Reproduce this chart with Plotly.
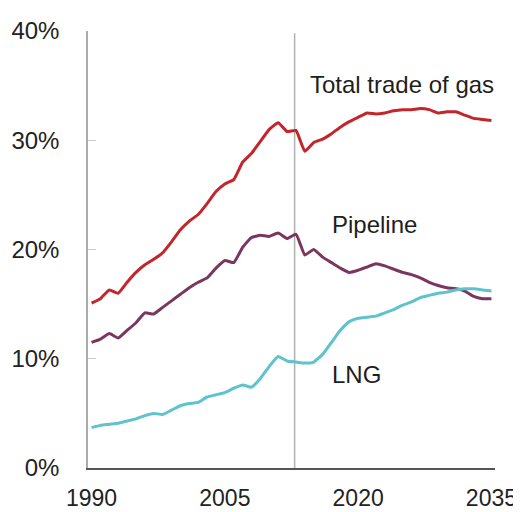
import plotly.graph_objects as go

years = list(range(1990, 2036))

total_trade = [15.1, 15.5, 16.3, 16.0, 17.0, 17.9, 18.6, 19.1, 19.7, 20.7,
               21.8, 22.6, 23.2, 24.2, 25.3, 26.0, 26.4, 28.0, 28.8, 29.9,
               31.0, 31.6, 30.8, 30.9, 29.0, 29.8, 30.1, 30.6, 31.2, 31.7,
               32.1, 32.5, 32.4, 32.5, 32.7, 32.8, 32.8, 32.9, 32.8, 32.5,
               32.6, 32.6, 32.3, 32.0, 31.9, 31.8]

pipeline = [11.5, 11.8, 12.3, 11.9, 12.6, 13.3, 14.2, 14.1, 14.7, 15.3,
            15.9, 16.5, 17.0, 17.4, 18.3, 19.0, 18.8, 20.2, 21.1, 21.3,
            21.2, 21.5, 21.0, 21.4, 19.5, 20.0, 19.3, 18.8, 18.3, 17.9,
            18.1, 18.4, 18.7, 18.5, 18.2, 17.9, 17.7, 17.4, 17.0, 16.7,
            16.5, 16.4, 16.2, 15.7, 15.5, 15.5]

lng = [3.7, 3.9, 4.0, 4.1, 4.3, 4.5, 4.8, 5.0, 4.9, 5.3,
       5.7, 5.9, 6.0, 6.5, 6.7, 6.9, 7.3, 7.6, 7.4, 8.2,
       9.3, 10.2, 9.8, 9.7, 9.6, 9.7, 10.4, 11.5, 12.6, 13.4,
       13.7, 13.8, 13.9, 14.2, 14.5, 14.9, 15.2, 15.6, 15.8, 16.0,
       16.1, 16.3, 16.4, 16.4, 16.3, 16.2]

x_ticks = [1990, 2005, 2020, 2035]
y_ticks = [0, 10, 20, 30, 40]
y_tick_labels = ["0%", "10%", "20%", "30%", "40%"]
projection_start = 2012.85

series_names = ["Total trade of gas", "Pipeline", "LNG"]
series_colors = ["#c3252c", "#7b3660", "#5ec3cd"]

fig = go.Figure()
for name, vals, col in zip(series_names, [total_trade, pipeline, lng], series_colors):
    fig.add_trace(go.Scatter(x=years, y=vals, mode="lines", name=name,
                             line=dict(color=col, width=3, shape="spline", smoothing=0.4)))

fig.add_shape(type="line", x0=projection_start, x1=projection_start, y0=0, y1=39.8,
              xref="x", yref="y", line=dict(color="#b0b0b0", width=1.5), layer="below")

font_family = "Liberation Sans, Arial, sans-serif"
label_pos = [(2014.4, 35.1), (2016.85, 22.3), (2016.85, 8.6)]
for name, (lx, ly) in zip(series_names, label_pos):
    fig.add_annotation(x=lx, y=ly, xref="x", yref="y", text=name, showarrow=False,
                       xanchor="left", yanchor="middle",
                       font=dict(family=font_family, size=24, color="#1e1e1e"))

# the page body adds an 8px offset, so margins are reduced by 8 on the top/left
fig.update_layout(
    width=521, height=512,
    margin=dict(l=80, r=34, t=23, b=52, autoexpand=False),
    paper_bgcolor="white", plot_bgcolor="white",
    showlegend=False,
    font=dict(family=font_family, color="#222222"),
)
fig.update_xaxes(range=[1989.6, 2035.4], tickvals=x_ticks, ticktext=[str(t) for t in x_ticks],
                 showgrid=False, zeroline=False, showline=True, linecolor="#555555", linewidth=2,
                 ticks="", tickfont=dict(size=23, color="#222222"), ticklabelstandoff=8,
                 automargin=False)
fig.update_yaxes(range=[0, 40], tickvals=y_ticks, ticktext=y_tick_labels,
                 showgrid=False, zeroline=False, showline=True, linecolor="#aaaaaa", linewidth=1.5,
                 ticks="inside", ticklen=8, tickcolor="#cccccc",
                 tickfont=dict(size=24, color="#222222"), ticklabelstandoff=22,
                 automargin=False)

fig.write_html("out.html")
